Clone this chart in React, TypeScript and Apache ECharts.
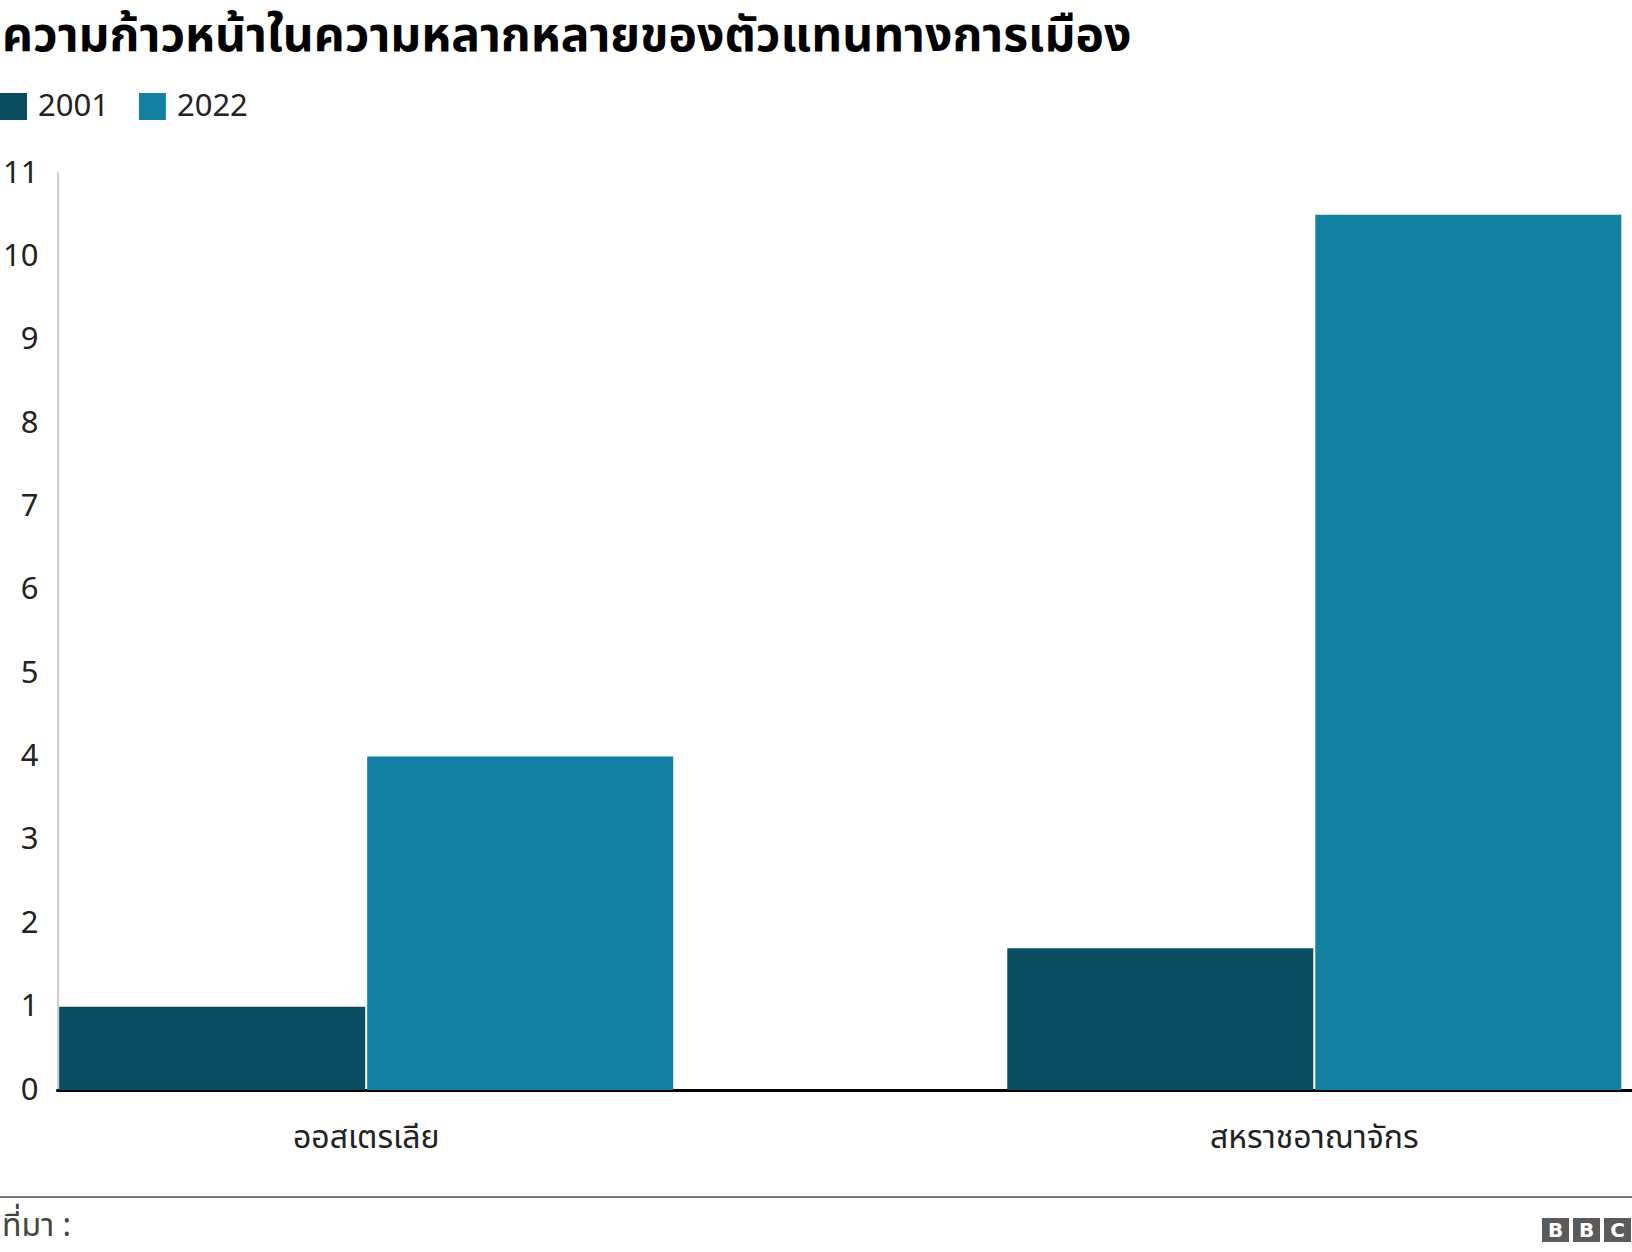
import React, { useEffect, useRef } from "react";
import * as echarts from "echarts";

const categories = ["ออสเตรเลีย", "สหราชอาณาจักร"];
const seriesNames = ["2001", "2022"];
const values2001 = [1, 1.7];
const values2022 = [4, 10.5];
const yTicks = [0, 1, 2, 3, 4, 5, 6, 7, 8, 9, 10, 11];

const colors = ["#0b4d60", "#1380a1"];
const THAI = "Tahoma, 'Noto Sans Thai', 'Loma', 'Garuda', 'DejaVu Sans', sans-serif";

export default function App() {
  const ref = useRef<HTMLDivElement>(null);
  useEffect(() => {
    document.body.style.margin = "0";
    const chart = echarts.init(ref.current!, null, { renderer: "svg" });
    const pos = categories.map((_, i) => i);
    chart.setOption({
      animation: false,
      backgroundColor: "#ffffff",
      textStyle: { fontFamily: THAI },
      legend: {
        left: 0,
        top: 91,
        padding: 0,
        itemWidth: 27,
        itemHeight: 27,
        itemGap: 30,
        icon: "rect",
        textStyle: { fontSize: 31, color: "#222", fontFamily: THAI, padding: [0, 0, 0, 6] },
        data: seriesNames,
      },
      grid: { left: 56, right: 0, top: 173, bottom: 1252 - 1090, containLabel: false },
      xAxis: {
        type: "value",
        min: -0.3256,
        max: 1.3351,
        splitLine: { show: false },
        axisTick: { show: false },
        axisLine: { show: true, onZero: false, lineStyle: { color: "#000", width: 3 } },
        axisLabel: {
          customValues: pos,
          formatter: (v: number) => categories[Math.round(v)] ?? "",
          fontSize: 32,
          color: "#222",
          margin: 32,
          fontFamily: THAI,
        },
      },
      yAxis: {
        type: "value",
        min: yTicks[0],
        max: yTicks[yTicks.length - 1],
        interval: 1,
        splitLine: { show: false },
        axisTick: { show: false },
        axisLine: { show: true, onZero: false, lineStyle: { color: "#cccccc", width: 2 } },
        axisLabel: { fontSize: 31, color: "#222", margin: 19, fontFamily: THAI },
      },
      series: [
        {
          name: seriesNames[0],
          type: "bar",
          data: pos.map((p, i) => [p, values2001[i]]),
          barWidth: 306,
          barGap: "0.66%",
          itemStyle: { color: colors[0] },
          z: 1,
        },
        {
          name: seriesNames[1],
          type: "bar",
          data: pos.map((p, i) => [p, values2022[i]]),
          barWidth: 306,
          barGap: "0.66%",
          itemStyle: { color: colors[1] },
          z: 1,
        },
      ],
      graphic: [
        {
          type: "text",
          x: 2,
          y: 36,
          style: {
            text: "ความก้าวหน้าในความหลากหลายของตัวแทนทางการเมือง",
            fontSize: 48,
            fontWeight: "bold",
            fill: "#000",
            fontFamily: THAI,
            verticalAlign: "middle",
          },
        },
        {
          type: "line",
          shape: { x1: 0, y1: 1197, x2: 1632, y2: 1197 },
          style: { stroke: "#777", lineWidth: 2 },
        },
        {
          type: "text",
          x: 2,
          y: 1226,
          style: { text: "ที่มา :", fontSize: 32, fill: "#444", fontFamily: THAI, verticalAlign: "middle" },
        },
        ...["B", "B", "C"].flatMap((ch, i) => [
          {
            type: "rect",
            shape: { x: 1542 + i * 31, y: 1218, width: 27, height: 24 },
            style: { fill: "#5a5a5a" },
          },
          {
            type: "text",
            x: 1542 + i * 31 + 13.5,
            y: 1230,
            style: {
              text: ch,
              fontSize: 20,
              fontWeight: "bold",
              fill: "#fff",
              align: "center",
              verticalAlign: "middle",
              fontFamily: "'DejaVu Sans', sans-serif",
            },
          },
        ]),
      ],
    });
    return () => chart.dispose();
  }, []);
  return <div ref={ref} style={{ width: 1632, height: 1252 }} />;
}
